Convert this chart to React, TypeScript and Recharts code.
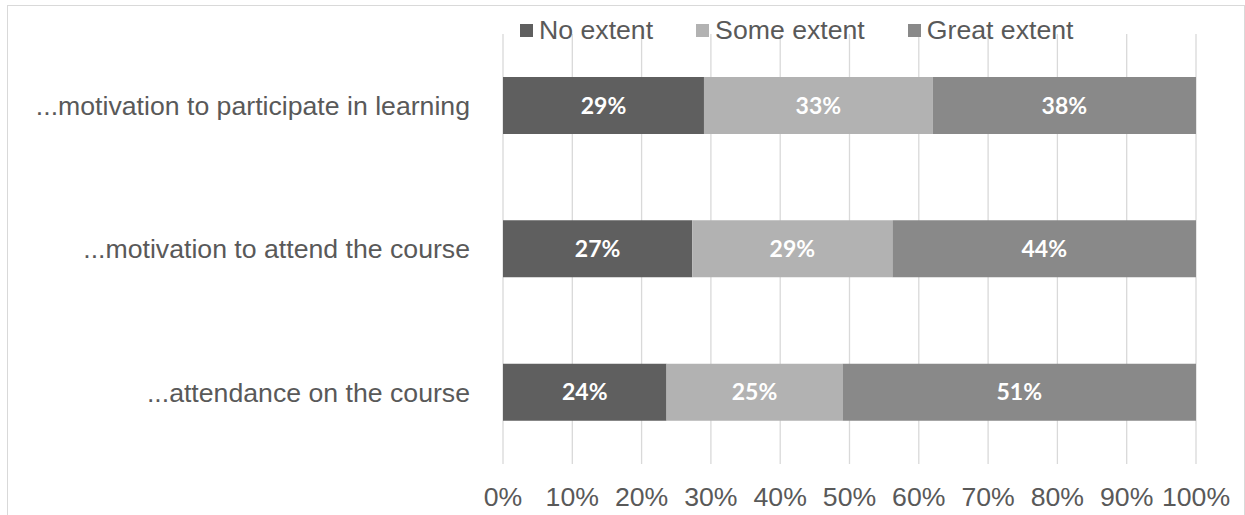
import React from 'react';
import { BarChart, Bar, XAxis, YAxis, CartesianGrid, Legend, LabelList } from 'recharts';

const categories = [
  '...motivation to participate in learning',
  '...motivation to attend the course',
  '...attendance on the course',
];
const noExtent = [29, 27.3, 23.6];
const someExtent = [33, 28.9, 25.4];
const greatExtent = [38, 43.8, 51.0];

const seriesKeys = ['no', 'some', 'great'];
const seriesNames = ['No extent', 'Some extent', 'Great extent'];
const seriesColors = ['#5f5f5f', '#b2b2b2', '#898989'];
const xTicks = [0, 10, 20, 30, 40, 50, 60, 70, 80, 90, 100];

const data = categories.map((name, i) => ({
  name,
  no: noExtent[i],
  some: someExtent[i],
  great: greatExtent[i],
}));

const textColor = '#595959';
const fontMain = '"Liberation Sans", Arial, sans-serif';
const fontSize = 26.67; // 20pt

// legend sits over the top of the grid, like in the original
const LegendContent = () => (
  <div style={{ display: 'flex', alignItems: 'center', fontFamily: fontMain, fontSize, color: textColor, whiteSpace: 'nowrap' }}>
    {seriesNames.map((n, i) => (
      <div key={n} style={{ display: 'flex', alignItems: 'center', marginRight: 43 }}>
        <span style={{ width: 13, height: 13, background: seriesColors[i], display: 'inline-block', marginRight: 6 }} />
        <span>{n}</span>
      </div>
    ))}
  </div>
);

export default function App() {
  return (
    <div style={{ position: 'absolute', left: 0, top: 0, width: 1245, height: 515, overflow: 'hidden', background: '#fff' }}>
      <div style={{ position: 'absolute', left: 7, top: 5, width: 1238, height: 540, border: '1px solid #d9d9d9', boxSizing: 'border-box' }} />
      <div style={{ position: 'absolute', left: 0, top: 0 }}>
        <BarChart
          width={1245}
          height={515}
          data={data}
          layout="vertical"
          margin={{ top: 34, right: 49, bottom: 0, left: 0 }}
          barCategoryGap="30%"
        >
          <CartesianGrid horizontal={false} stroke="#d9d9d9" strokeWidth={1.3} />
          <XAxis
            type="number"
            domain={[0, 100]}
            ticks={xTicks}
            tickFormatter={(v) => `${v}%`}
            axisLine={false}
            tickLine={false}
            tickSize={0}
            tickMargin={23}
            height={51}
            interval={0}
            tick={{ fontSize, fill: textColor, fontFamily: fontMain }}
          />
          <YAxis
            type="category"
            dataKey="name"
            width={503}
            axisLine={false}
            tickLine={false}
            tickSize={0}
            tickMargin={33}
            tick={{ fontSize, fill: textColor, fontFamily: fontMain }}
          />
          <Legend
            layout="horizontal"
            verticalAlign="middle"
            align="center"
            wrapperStyle={{ top: 15, left: 520, width: 640 }}
            content={<LegendContent />}
          />
          {seriesKeys.map((k, i) => (
            <Bar key={k} dataKey={k} name={seriesNames[i]} stackId="a" fill={seriesColors[i]} isAnimationActive={false}>
              <LabelList
                dataKey={k}
                position="center"
                formatter={(v: number) => `${Math.round(v)}%`}
                fill="#ffffff"
                style={{ fontFamily: 'Lato, sans-serif', fontWeight: 700, fontSize: 23 }}
              />
            </Bar>
          ))}
        </BarChart>
      </div>
    </div>
  );
}
